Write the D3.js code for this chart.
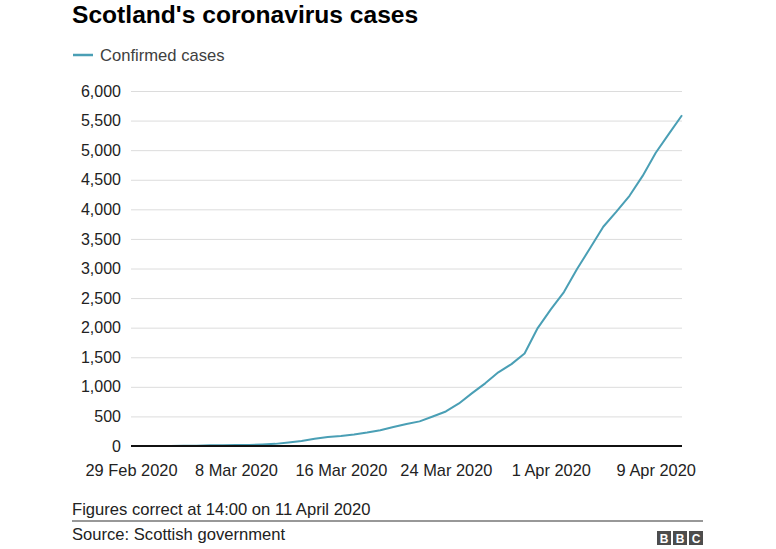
<!DOCTYPE html>
<html><head><meta charset="utf-8">
<script src="https://cdn.jsdelivr.net/npm/d3@7"></script>
<style>body{margin:0;background:#fff}svg{display:block}text{font-family:"Liberation Sans",Arial,sans-serif}</style>
</head><body><svg id="c" width="776" height="549"></svg>
<script>
const startDate = "2020-02-29";
const cases = [0,1,1,2,3,6,11,11,16,18,27,36,60,85,121,153,171,195,227,266,322,373,416,499,584,719,894,1059,1245,1384,1563,1993,2310,2602,2993,3345,3706,3961,4229,4565,4957,5275,5590];
const yTicks = [0,500,1000,1500,2000,2500,3000,3500,4000,4500,5000,5500,6000];
const xTickLabels = ["29 Feb 2020","8 Mar 2020","16 Mar 2020","24 Mar 2020","1 Apr 2020","9 Apr 2020"];
const xTickDates = ["2020-02-29","2020-03-08","2020-03-16","2020-03-24","2020-04-01","2020-04-09"];

const parse = d3.utcParse("%Y-%m-%d");
const t0 = parse(startDate);
const data = cases.map((v,i)=>({date:d3.utcDay.offset(t0,i), v}));

const svg = d3.select("#c");
const L=131, R=682, T=91, B=446;
const x = d3.scaleUtc().domain([data[0].date, data[data.length-1].date]).range([L,R]);
const y = d3.scaleLinear().domain([0,6000]).range([B,T]);
const FF = '"Liberation Sans",Arial,sans-serif';

// title
svg.append("text").attr("x",72).attr("y",23).attr("font-size",24.6).attr("font-weight","bold").attr("fill","#000").text("Scotland's coronavirus cases");
// legend
svg.append("line").attr("x1",73).attr("x2",93).attr("y1",55).attr("y2",55).attr("stroke","#4a9fb5").attr("stroke-width",2.5);
svg.append("text").attr("x",100).attr("y",61).attr("font-size",16.6).attr("fill","#404040").text("Confirmed cases");

// grid + y axis
const yAxis = d3.axisLeft(y).tickValues(yTicks).tickSize(-(R-L)).tickPadding(10).tickFormat(d3.format(","));
const gy = svg.append("g").attr("transform",`translate(${L},0)`).call(yAxis);
gy.select(".domain").remove();
gy.selectAll(".tick line").attr("stroke","#dcdcdc").attr("stroke-width",1);
gy.selectAll(".tick text").attr("font-size",16).attr("fill","#222").attr("font-family",FF);

// x axis
const xAxis = d3.axisBottom(x).tickValues(xTickDates.map(parse)).tickSize(0).tickPadding(18)
  .tickFormat((d,i)=>xTickLabels[i]);
const gx = svg.append("g").attr("transform",`translate(0,${B})`).call(xAxis);
gx.select(".domain").remove();
gx.selectAll(".tick text").attr("font-size",16.4).attr("fill","#222").attr("font-family",FF);

// line
svg.append("path").datum(data).attr("fill","none").attr("stroke","#4a9fb5").attr("stroke-width",2)
  .attr("stroke-linejoin","round").attr("d", d3.line().x(d=>x(d.date)).y(d=>y(d.v)));

// baseline
svg.append("line").attr("x1",L).attr("x2",R).attr("y1",B).attr("y2",B).attr("stroke","#111").attr("stroke-width",2);

// footer
svg.append("text").attr("x",72).attr("y",515).attr("font-size",16.6).attr("fill","#222").text("Figures correct at 14:00 on 11 April 2020");
svg.append("line").attr("x1",72).attr("x2",703).attr("y1",521).attr("y2",521).attr("stroke","#333").attr("stroke-width",1.2);
svg.append("text").attr("x",72).attr("y",540).attr("font-size",16.6).attr("fill","#222").text("Source: Scottish government");
const logo = svg.append("g").attr("transform","translate(657,531)");
["B","B","C"].forEach((ch,i)=>{
  logo.append("rect").attr("x",i*16).attr("y",0).attr("width",14).attr("height",14).attr("fill","#4d4d4d");
  logo.append("text").attr("x",i*16+7).attr("y",12).attr("text-anchor","middle").attr("font-size",12).attr("font-weight","bold").attr("fill","#fff").text(ch);
});
</script></body></html>
